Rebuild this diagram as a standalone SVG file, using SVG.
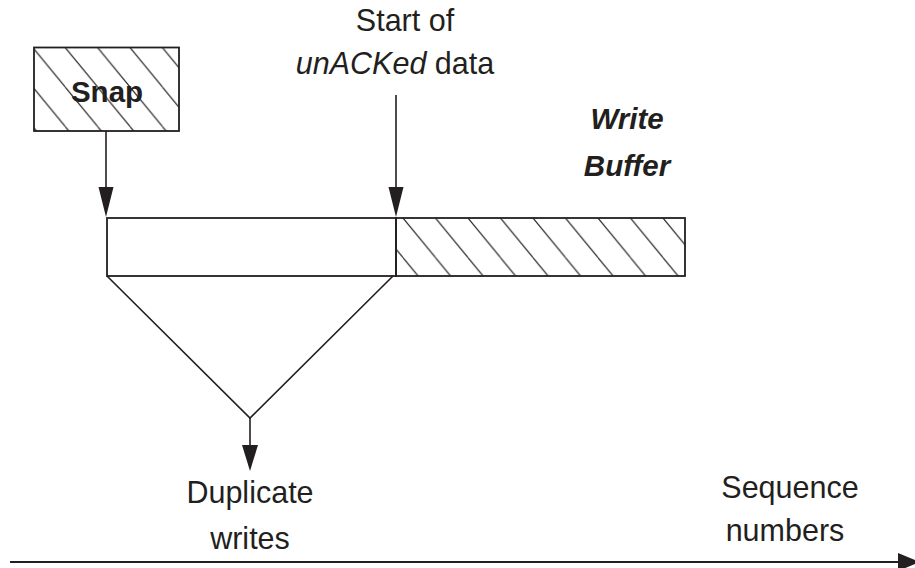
<svg xmlns="http://www.w3.org/2000/svg" width="915" height="568" viewBox="0 0 915 568">
  <style>
    .ln { stroke: #231f20; stroke-width: 1.6; fill: none; }
    .box { stroke: #231f20; stroke-width: 1.8; }
    .hatch { stroke: #231f20; stroke-width: 1.1; fill: none; }
    .t { font-family: "Liberation Sans", Arial, sans-serif; font-size: 30.5px; fill: #231f20; text-anchor: middle; }
    .b { font-weight: bold; font-size: 29.5px; }
    .i { font-style: italic; }
  </style>
  <defs>
    <!-- diagonal hatching, lines running down-right -->
    <pattern id="hatchSnap" patternUnits="userSpaceOnUse" x="130" y="47.5" width="32.4" height="39.5">
      <path class="hatch" d="M0,0 L32.4,39.5 M-32.4,0 L0,39.5 M32.4,0 L64.8,39.5"/>
    </pattern>
    <pattern id="hatchBuf" patternUnits="userSpaceOnUse" x="403" y="218" width="32.5" height="39.6">
      <path class="hatch" d="M0,0 L32.5,39.6 M-32.5,0 L0,39.6 M32.5,0 L65,39.6"/>
    </pattern>
  </defs>

  <!-- snapshot block -->
  <g id="snap">
    <rect class="box" x="34" y="47.5" width="145" height="83.5" fill="url(#hatchSnap)"/>
    <text class="t b" x="107" y="102">Snap</text>
  </g>

  <!-- write buffer: acknowledged (plain) and unacknowledged (hatched) parts -->
  <g id="write-buffer">
    <rect class="box" x="107" y="218" width="289" height="58" fill="#ffffff"/>
    <rect class="box" x="396" y="218" width="289" height="58" fill="url(#hatchBuf)"/>
    <text class="t b i" x="627" y="129">Write</text>
    <text class="t b i" x="627" y="176">Buffer</text>
  </g>

  <g id="unacked-label">
    <text class="t" x="405" y="31">Start of</text>
    <text class="t" x="395" y="74"><tspan class="i">unACKed</tspan> data</text>
  </g>

  <g id="duplicate-label">
    <text class="t" x="250" y="503">Duplicate</text>
    <text class="t" x="250" y="549">writes</text>
  </g>

  <g id="sequence-label">
    <text class="t" x="790" y="498">Sequence</text>
    <text class="t" x="785" y="541">numbers</text>
  </g>

  <!-- connectors -->
  <g id="connectors">
    <line class="ln" x1="106" y1="131" x2="106" y2="190"/>
    <path d="M98.5,187 L106,217 L113.5,187 Z" fill="#231f20"/>
    <line class="ln" x1="396" y1="95" x2="396" y2="190"/>
    <path d="M388.5,187 L396,217 L403.5,187 Z" fill="#231f20"/>
    <polyline class="ln" points="107,276 250,418 393,276"/>
    <line class="ln" x1="250" y1="418" x2="250" y2="448"/>
    <path d="M242,445 L250,471 L258,445 Z" fill="#231f20"/>
    <line x1="10" y1="562" x2="900" y2="562" stroke="#231f20" stroke-width="2"/>
    <path d="M898,553 L920,562 L898,571 Z" fill="#231f20"/>
  </g>
</svg>
